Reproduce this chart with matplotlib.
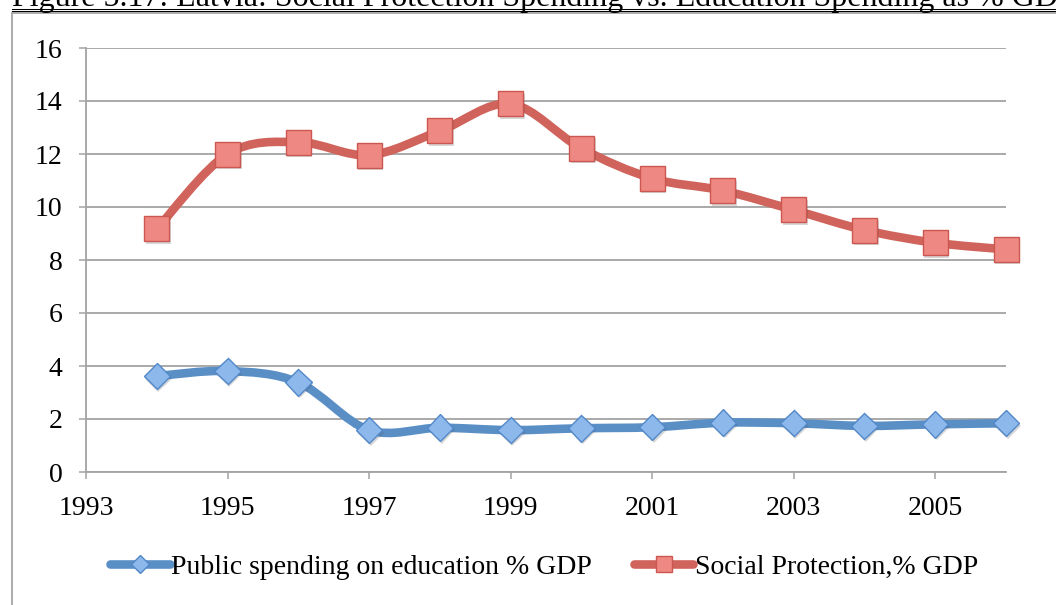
import numpy as np
import matplotlib
matplotlib.use("Agg")
import matplotlib.pyplot as plt
from matplotlib.path import Path
from matplotlib.patches import PathPatch, Rectangle
from matplotlib.lines import Line2D
import matplotlib.patheffects as pe

# Latvia: public spending shares, % of GDP
years = [1994, 1995, 1996, 1997, 1998, 1999, 2000, 2001, 2002, 2003, 2004, 2005, 2006]
education = [3.62, 3.81, 3.38, 1.58, 1.67, 1.58, 1.65, 1.69, 1.86, 1.84, 1.74, 1.80, 1.84]
social = [9.17, 12.0, 12.45, 11.96, 12.87, 13.89, 12.21, 11.08, 10.62, 9.89, 9.13, 8.65, 8.40]

x_ticks = [1993, 1995, 1997, 1999, 2001, 2003, 2005]
y_ticks = [0, 2, 4, 6, 8, 10, 12, 14, 16]

edu_label = "Public spending on education % GDP"
soc_label = "Social Protection,% GDP"
title = "Figure 5.17: Latvia: Social Protection Spending vs. Education Spending as % GDP"

FONT = "Liberation Serif"
W, H = 1056, 605

fig = plt.figure(figsize=(W / 100, H / 100), dpi=100)
fig.patch.set_facecolor("white")

ax = fig.add_axes([86 / W, 1 - 472 / H, (1006 - 86) / W, (472 - 48) / H])
ax.set_xlim(1993, 2006)
ax.set_ylim(0, 16)


def smooth_path(xs, ys):
    """Bezier path through the points with Catmull-Rom style tangents."""
    pts = np.column_stack([xs, ys]).astype(float)
    n = len(pts)
    verts = [pts[0]]
    codes = [Path.MOVETO]
    for i in range(n - 1):
        p_prev = pts[i - 1] if i > 0 else pts[i]
        p_next = pts[i + 2] if i + 2 < n else pts[i + 1]
        c1 = pts[i] + (pts[i + 1] - p_prev) / 6.0
        c2 = pts[i + 1] - (p_next - pts[i]) / 6.0
        verts += [c1, c2, pts[i + 1]]
        codes += [Path.CURVE4] * 3
    return Path(verts, codes)


red_line = "#d0635b"
red_fill, red_edge = "#ee8882", "#cc5650"
blue_line = "#5a8fc6"
blue_fill, blue_edge = "#8cb8ec", "#5388c8"

shadow = [pe.SimplePatchShadow(offset=(1.2, -1.8), shadow_rgbFace="0.3", alpha=0.22), pe.Normal()]

series = [
    (education, blue_line, "D", 13.5, blue_fill, blue_edge),
    (social, red_line, "s", 18, red_fill, red_edge),
]
for vals, lc, mk, ms, fc, ec in series:
    ax.add_patch(PathPatch(smooth_path(years, vals), facecolor="none", edgecolor=lc,
                           lw=6.2, capstyle="round", joinstyle="round", zorder=3,
                           clip_on=False))
    ax.plot(years, vals, ls="none", marker=mk, ms=ms, mfc=fc, mec=ec, mew=1.0,
            zorder=4, clip_on=False, path_effects=shadow)

# grid and axes styling
grid_c = "#a3a3a3"
ax.set_yticks(y_ticks)
ax.set_xticks(x_ticks)
ax.grid(axis="y", color=grid_c, lw=1.3, zorder=1)
ax.set_axisbelow(True)
for side in ("top", "right"):
    ax.spines[side].set_visible(False)
for side in ("left", "bottom"):
    ax.spines[side].set_color(grid_c)
    ax.spines[side].set_linewidth(1.3)
ax.tick_params(axis="both", direction="out", length=5, width=1.1, color=grid_c,
               labelsize=20, labelcolor="black")
ax.tick_params(axis="y", pad=12)
ax.tick_params(axis="x", pad=12.5)
for lbl in ax.get_xticklabels() + ax.get_yticklabels():
    lbl.set_fontfamily(FONT)

# legend below the plot
handles = [
    Line2D([], [], color=blue_line, lw=6.2, solid_capstyle="round", marker="D", ms=9,
           mfc=blue_fill, mec=blue_edge, mew=1.0),
    Line2D([], [], color=red_line, lw=6.2, solid_capstyle="round", marker="s", ms=12,
           mfc=red_fill, mec=red_edge, mew=1.0),
]
fig.legend(handles, [edu_label, soc_label], loc="center", bbox_to_anchor=(544 / W, 1 - 567 / H),
           ncol=2, frameon=False, handlelength=2.15, handletextpad=0.05, columnspacing=1.5,
           prop={"family": FONT, "size": 20})

# outer chart frame
fig.add_artist(Rectangle((12 / W, -0.05), 1.2, 1.05 - 12.5 / H, transform=fig.transFigure,
                         facecolor="none", edgecolor="#a6a6a6", lw=1.3, zorder=0))

# caption above the chart, double underlined
fig.text(12 / W, 1 - 6 / H, title, family=FONT, fontsize=23.0, va="baseline", ha="left")
for yy in (8.5, 10.5):
    fig.add_artist(Line2D([12 / W, 1.0], [1 - yy / H] * 2, transform=fig.transFigure,
                          color="black", lw=0.75))

fig.savefig("out.png", dpi=100)
